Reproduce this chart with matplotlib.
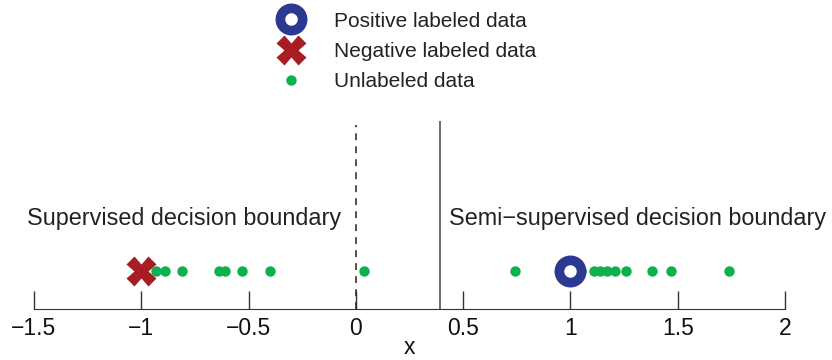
import numpy as np
import matplotlib.pyplot as plt
from matplotlib.lines import Line2D

plt.rcParams['font.family'] = ['Liberation Sans', 'DejaVu Sans']

# data
pos_x = [1.0]
neg_x = [-1.0]
unlabeled_x = [-0.93, -0.89, -0.81, -0.64, -0.61, -0.53, -0.40, 0.04,
               0.74, 1.05, 1.11, 1.14, 1.17, 1.21, 1.26, 1.38, 1.47, 1.74]
supervised_boundary = 0.0
semi_boundary = 0.39
xticks = [-1.5, -1, -0.5, 0, 0.5, 1, 1.5, 2]
xtick_labels = ['\u22121.5', '\u22121', '\u22120.5', '0', '0.5', '1', '1.5', '2']

blue = '#2B3990'
red = '#A61E22'
green = '#0DB14B'

fig = plt.figure(figsize=(8.32, 3.6), dpi=100)
ax = fig.add_axes([34/832, 1 - 309/360, (785-34)/832, (309-121)/360])
ax.set_xlim(-1.5, 2)
ax.set_ylim(0, 1)

py = 0.202
ax.axvline(supervised_boundary, color='#222222', lw=1.1, ls=(0, (4.5, 4)), ymax=0.98)
ax.axvline(semi_boundary, color='#555555', lw=1.2)

h_un, = ax.plot(unlabeled_x, [py]*len(unlabeled_x), 'o', color=green, ms=7.5, mec='none', zorder=3)
h_neg, = ax.plot(neg_x, [py], 'X', color=red, ms=21, mec='none', zorder=4)
h_pos, = ax.plot(pos_x, [py], 'o', mfc='white', mec=blue, ms=16, mew=7, zorder=4)

ax.text(-0.80, 0.484, 'Supervised decision boundary', ha='center', va='center',
        fontsize=16.8, color='#222222')
ax.text(1.312, 0.484, 'Semi\u2212supervised decision boundary', ha='center', va='center',
        fontsize=16.8, color='#222222')

for s in ['top', 'left', 'right']:
    ax.spines[s].set_visible(False)
ax.spines['bottom'].set_color('#333333')
ax.set_yticks([])
ax.set_xticks(xticks)
ax.set_xticklabels(xtick_labels)
ax.tick_params(axis='x', direction='in', length=13, width=1, color='#333333',
               labelsize=16.5, pad=6, labelcolor='#111111')
ax.set_xlabel('x', fontsize=16.5, labelpad=-3, color='#111111')

fig.legend([h_pos, h_neg, h_un],
           ['Positive labeled data', 'Negative labeled data', 'Unlabeled data'],
           loc='upper left', bbox_to_anchor=(257/832, 1.02), frameon=False,
           fontsize=15, numpoints=1, handlelength=1.5, handletextpad=1.3,
           labelspacing=0.55, labelcolor='#222222')

fig.savefig('out.png', dpi=100)
